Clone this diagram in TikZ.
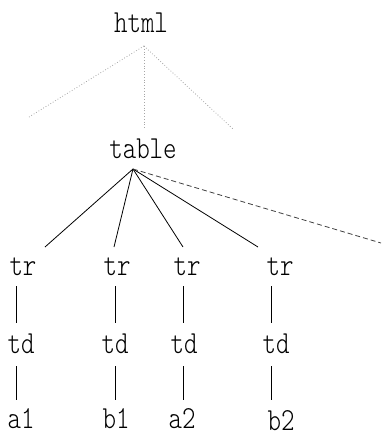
\documentclass[tikz,border=0pt]{standalone}
\usepackage{graphicx}
\begin{document}
\begin{tikzpicture}[x=1pt,y=-1pt,
  lbl/.style={anchor=base,inner sep=0pt,font=\ttfamily\fontseries{l}\fontsize{25.7}{26}\selectfont},
  edge/.style={line width=0.8pt,black},
  faint/.style={line width=0.8pt,gray!70,dotted},
  more/.style={line width=0.8pt,black!75,dash pattern=on 5pt off 3pt}]
\useasboundingbox (0,0) rectangle (382,432);
% labels
\node[lbl] (html) at (141,32) {\scalebox{1}[1.25]{html}};
\node[lbl] (table) at (143,158) {\scalebox{1}[1.25]{table}};
\foreach \i/\x in {1/23,2/117,3/187,4/280}
  \node[lbl] (tr\i) at (\x,275) {\scalebox{1}[1.25]{tr}};
\foreach \i/\x in {1/21,2/115,3/184,4/276}
  \node[lbl] (td\i) at (\x,353) {\scalebox{1}[1.25]{td}};
\node[lbl] (a1) at (21,428) {\scalebox{1}[1.25]{a1}};
\node[lbl] (b1) at (116,428) {\scalebox{1}[1.25]{b1}};
\node[lbl] (a2) at (182,428) {\scalebox{1}[1.25]{a2}};
\node[lbl] (b2) at (281,430) {\scalebox{1}[1.25]{b2}};
% edge end points
\coordinate (html-s) at (144,46);
\coordinate (h1) at (29,117);
\coordinate (h2) at (144,128);
\coordinate (h3) at (233,129);
\coordinate (table-s) at (133,169);
\coordinate (t1) at (45,247);
\coordinate (t2) at (114,247);
\coordinate (t3) at (183,247);
\coordinate (t4) at (258,247);
\coordinate (t5) at (381,243);
\foreach \i/\x in {1/16,2/115,3/183,4/271} {
  \coordinate (tr\i-s) at (\x,286);
  \coordinate (td\i-n) at (\x,323);
  \coordinate (td\i-s) at (\x,366);
  \coordinate (lf\i-n) at (\x,400);
}
% edges
\foreach \c in {h1,h2,h3} \draw[faint] (html-s) -- (\c);
\foreach \c in {t1,t2,t3,t4} \draw[edge] (table-s) -- (\c);
\draw[more] (table-s) -- (t5);
\foreach \i in {1,2,3,4} {
  \draw[edge] (tr\i-s) -- (td\i-n);
  \draw[edge] (td\i-s) -- (lf\i-n);
}
\end{tikzpicture}
\end{document}
